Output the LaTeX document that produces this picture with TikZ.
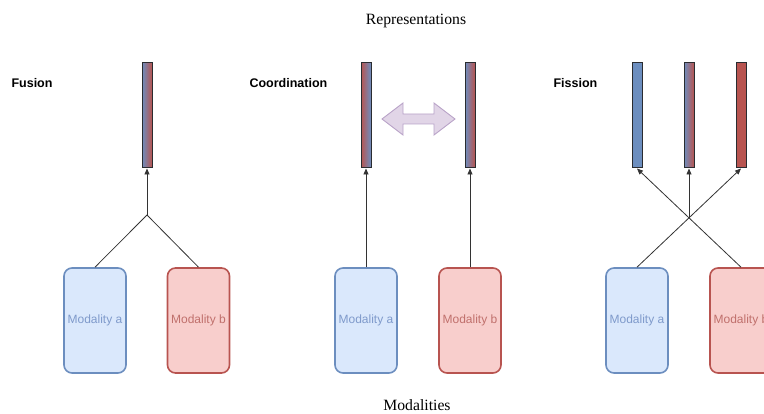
\documentclass[tikz,border=0pt]{standalone}
\usepackage{fontspec}
\setmainfont{Liberation Serif}
\setsansfont{Liberation Sans}
\usetikzlibrary{arrows.meta}
\definecolor{blueFill}{HTML}{DAE8FC}
\definecolor{blueLine}{HTML}{6C8EBF}
\definecolor{blueText}{HTML}{7F9ACB}
\definecolor{redFill}{HTML}{F8CECC}
\definecolor{redLine}{HTML}{B85450}
\definecolor{redText}{HTML}{C0706C}
\definecolor{barEdge}{HTML}{2A2C30}
\definecolor{purpFill}{HTML}{E1D5E7}
\definecolor{purpLine}{HTML}{B9A3C8}
\definecolor{wire}{HTML}{333333}
\tikzset{
  modbox/.style={draw, line width=1.6pt, rounded corners=8pt, minimum width=62pt,
    minimum height=105pt, inner sep=0pt, font=\sffamily\fontsize{12}{14}\selectfont},
  moda/.style={modbox, draw=blueLine, fill=blueFill, text=blueText},
  modb/.style={modbox, draw=redLine, fill=redFill, text=redText},
  bar/.style={draw=barEdge, line width=1pt, minimum width=10pt, minimum height=105pt, inner sep=0pt},
  barBR/.style={bar, left color=blueLine, right color=redLine},
  barRB/.style={bar, left color=redLine, right color=blueLine},
  barB/.style={bar, fill=blueLine},
  barR/.style={bar, fill=redLine},
  title/.style={font=\sffamily\bfseries\fontsize{12.5}{14}\selectfont, anchor=west},
  caption/.style={font=\fontsize{15.7}{18}\selectfont},
  wireline/.style={draw=wire, line width=0.8pt},
  arrowline/.style={wireline, -{Triangle[length=6pt,width=5pt]}},
}
\begin{document}
\begin{tikzpicture}[x=1pt, y=-1pt]
\useasboundingbox (0,0) rectangle (764,414);

% captions
\node[caption] (reps) at (416,21) {Representations};
\node[caption] (mods) at (417,405.5) {Modalities};

% section titles
\node[title] (tFus) at (8,83) {Fusion};
\node[title] (tCoo) at (246,83) {Coordination};
\node[title] (tFis) at (550,83) {Fission};

% ---- Fusion ----
\node[barBR] (fBar) at (147,115.5) {};
\node[moda] (fA) at (95,320.5) {Modality a};
\node[modb] (fB) at (198.5,320.5) {Modality b};
\coordinate (fJ) at (147,215);
\draw[wireline] (fA.north) -- (fJ);
\draw[wireline] (fB.north) -- (fJ);
\draw[arrowline] (fJ) -- (fBar.south);

% ---- Coordination ----
\node[barRB] (cBar1) at (366,115.5) {};
\node[barBR] (cBar2) at (470,115.5) {};
\node[moda] (cA) at (366,320.5) {Modality a};
\node[modb] (cB) at (470,320.5) {Modality b};
\draw[arrowline] (cA.north) -- (cBar1.south);
\draw[arrowline] (cB.north) -- (cBar2.south);
% double-headed block arrow between the two representations
\draw[fill=purpFill, draw=purpLine, line width=0.9pt, line join=miter]
  (382,119) -- (403,103) -- (403,114) -- (434,114) -- (434,103) -- (455,119)
  -- (434,135) -- (434,124) -- (403,124) -- (403,135) -- cycle;

% ---- Fission ----
\node[barB] (sBar1) at (637,115.5) {};
\node[barBR] (sBar2) at (689,115.5) {};
\node[barR] (sBar3) at (741,115.5) {};
\node[moda] (sA) at (637,320.5) {Modality a};
\node[modb] (sB) at (741,320.5) {Modality b};
\coordinate (sX) at (689,218);
\draw[arrowline] (sA.north) -- (sBar3.south);
\draw[arrowline] (sB.north) -- (sBar1.south);
\draw[arrowline] (sX) -- (sBar2.south);
\end{tikzpicture}
\end{document}
